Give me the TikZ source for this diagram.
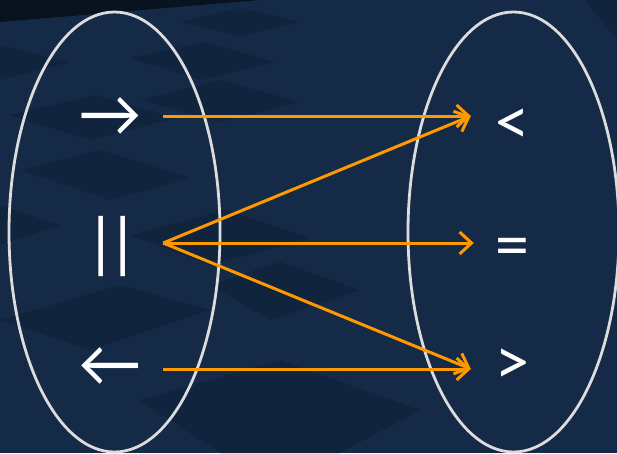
\documentclass[tikz,border=0pt]{standalone}
\usepackage{fontspec}
\setmainfont{Carlito}
\usetikzlibrary{shapes.geometric,arrows.meta,positioning}

\definecolor{bgnavy}{HTML}{152A47}
\definecolor{tiledark}{HTML}{11243D}
\definecolor{rimgray}{HTML}{DCDCDC}
\definecolor{linkorange}{HTML}{FF9900}

\begin{document}
\begin{tikzpicture}[
    x=1pt, y=-1pt,
    set/.style={draw=rimgray, line width=2.8pt, ellipse, inner sep=0pt, minimum width=211pt, minimum height=440pt},
    sym/.style={text=white, font=\fontsize{68}{68}\selectfont, inner sep=0pt},
    lsym/.style={sym, minimum width=106pt},
    rsym/.style={sym, minimum width=82pt},
    link/.style={-{Straight Barb[length=12pt,width=22pt]}, line width=3pt, linkorange},
    tile/.style={fill=tiledark, draw=none},
]

% background
\fill[bgnavy] (0,0) rectangle (617,453);
\useasboundingbox (0,0) rectangle (617,453);
\fill[black!55!bgnavy] (0,0) -- (260,0) -- (0,22) -- cycle;
\fill[tile] (130,58) -- (205,42) -- (275,62) -- (200,80) -- cycle;
\fill[tile] (180,22) -- (240,8) -- (300,22) -- (240,36) -- cycle;
\fill[tile] (0,45) -- (70,62) -- (0,80) -- cycle;
\fill[tile] (10,115) -- (95,95) -- (175,118) -- (90,140) -- cycle;
\fill[tile] (140,100) -- (220,80) -- (300,102) -- (220,122) -- cycle;
\fill[tile] (20,170) -- (100,150) -- (190,178) -- (110,200) -- cycle;
\fill[tile] (0,205) -- (60,225) -- (0,245) -- cycle;
\fill[tile] (130,235) -- (225,210) -- (310,238) -- (210,265) -- cycle;
\fill[tile] (0,320) -- (120,285) -- (210,310) -- (90,350) -- cycle;
\fill[tile] (210,285) -- (280,262) -- (360,290) -- (270,320) -- cycle;
\fill[tile] (140,400) -- (280,360) -- (420,410) -- (340,453) -- (220,453) -- cycle;
\fill[tile] (585,0) -- (617,0) -- (617,40) -- cycle;

% the two sets
\node[set] (setL) at (114.5,232) {};
\node[set] (setR) at (513.5,232) {};

% left members
\node[lsym] (toR) at (110,117) {→};
\node[lsym] (par) at (112,247) {|\kern-9pt|};
\node[lsym] (toL) at (110,367) {←};

% right members
\node[rsym] (lt) at (512,127) {<};
\node[rsym] (eq) at (512,253) {=};
\node[rsym] (gt) at (512,367) {>};

% links
\draw[link] ([yshift=1pt]toR.east) -- ([yshift=11pt]lt.west);
\draw[link] ([xshift=-2pt,yshift=4pt]par.east) -- ([yshift=11pt]lt.west);
\draw[link] ([xshift=-2pt,yshift=4pt]par.east) -- ([xshift=3pt,yshift=10pt]eq.west);
\draw[link] ([xshift=-2pt,yshift=4pt]par.east) -- ([yshift=-2pt]gt.west);
\draw[link] ([yshift=-2pt]toL.east) -- ([yshift=-2pt]gt.west);

\end{tikzpicture}
\end{document}
